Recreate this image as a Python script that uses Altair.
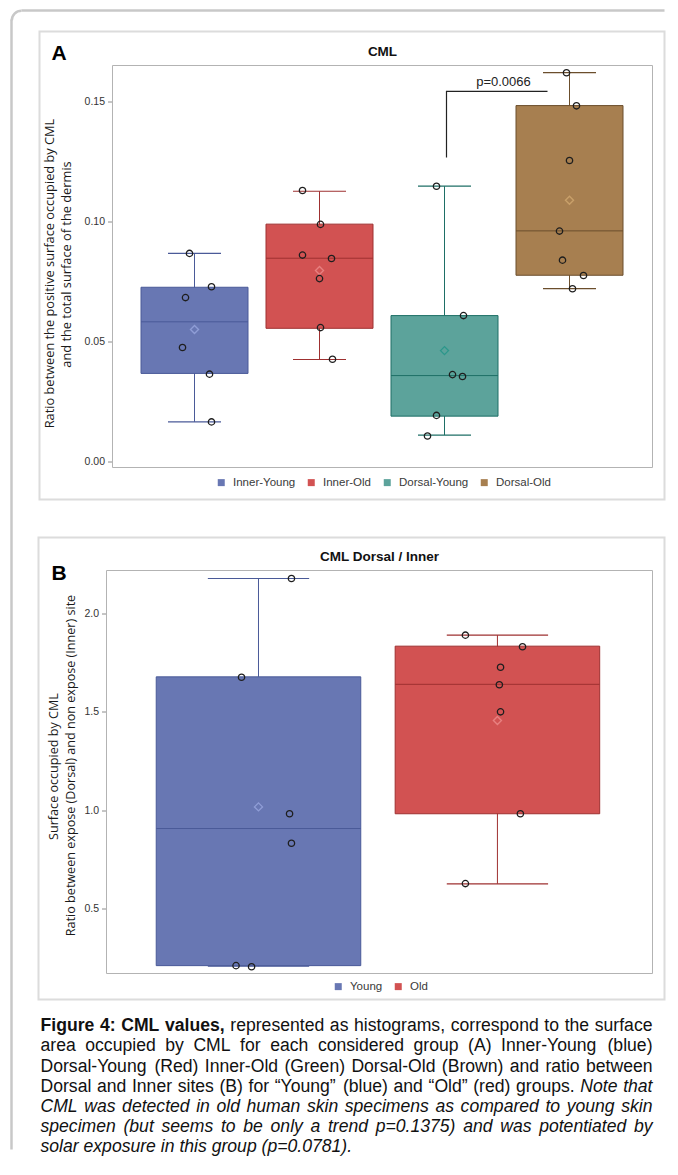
import altair as alt
import pandas as pd

# ---------------- Panel A data (CML) ----------------
A_GROUPS = ["Inner-Young", "Inner-Old", "Dorsal-Young", "Dorsal-Old"]
A_Q1 = [0.0367, 0.0555, 0.0189, 0.0776]
A_MEDIAN = [0.0582, 0.0847, 0.0358, 0.0961]
A_Q3 = [0.0726, 0.0989, 0.0608, 0.1483]
A_LOW = [0.0165, 0.0425, 0.0110, 0.0720]
A_HIGH = [0.0867, 0.1126, 0.1147, 0.1620]
A_MEAN = [0.0550, 0.0796, 0.0462, 0.1089]
A_PTS_IY = [0.0867, 0.0728, 0.0683, 0.0475, 0.0364, 0.0165]
A_JIT_IY = [-0.04, 0.136, -0.072, -0.096, 0.12, 0.136]
A_PTS_IO = [0.1129, 0.0988, 0.0860, 0.0846, 0.0762, 0.0558, 0.0426]
A_JIT_IO = [-0.136, 0.008, -0.136, 0.096, 0.0, 0.008, 0.104]
A_PTS_DY = [0.1147, 0.0608, 0.0362, 0.0354, 0.0192, 0.0106]
A_JIT_DY = [-0.064, 0.152, 0.064, 0.144, -0.064, -0.136]
A_PTS_DO = [0.1620, 0.1482, 0.1254, 0.0960, 0.0839, 0.0775, 0.0720]
A_JIT_DO = [-0.024, 0.056, 0.0, -0.08, -0.056, 0.112, 0.024]
A_TICKS = [0.0, 0.05, 0.10, 0.15]
A_BRACKET_X = [3.016, 3.016, 3.824]
A_BRACKET_Y = [0.1267, 0.1542, 0.1542]
A_PVALUE = "p=0.0066"
A_PVALUE_X = [3.472]
A_PVALUE_Y = [0.1583]

# ---------------- Panel B data (CML Dorsal / Inner) ----------------
B_GROUPS = ["Young", "Old"]
B_Q1 = [0.210, 0.982]
B_MEDIAN = [0.907, 1.640]
B_Q3 = [1.678, 1.834]
B_LOW = [0.207, 0.626]
B_HIGH = [2.178, 1.890]
B_MEAN = [1.017, 1.456]
B_PTS_Y = [2.178, 1.676, 0.982, 0.832, 0.210, 0.204]
B_JIT_Y = [0.138, -0.071, 0.130, 0.138, -0.094, -0.029]
B_PTS_O = [1.890, 1.831, 1.727, 1.638, 1.500, 0.982, 0.627]
B_JIT_O = [-0.134, 0.105, 0.013, 0.008, 0.013, 0.096, -0.134]
B_TICKS = [0.5, 1.0, 1.5, 2.0]

FILLS = ["#6877B3", "#D25252", "#5CA39B", "#A77F50"]
LINES = ["#4A5A98", "#9E3030", "#1E6F66", "#6B4E2C"]
MEANS = ["#8F9DD6", "#E88080", "#2C978B", "#C9A06A"]

CAPTION = [
    [("Figure 4: CML values,", "bold"), ("represented as histograms, correspond to the surface", "normal")],
    [("area occupied by CML for each considered group (A) Inner-Young (blue)", "normal")],
    [("Dorsal-Young (Red) Inner-Old (Green) Dorsal-Old (Brown) and ratio between", "normal")],
    [("Dorsal and Inner sites (B) for \u201cYoung\u201d (blue) and \u201cOld\u201d (red) groups.", "normal"),
     ("Note that", "italic")],
    [("CML was detected in old human skin specimens as compared to young skin", "italic")],
    [("specimen (but seems to be only a trend p=0.1375) and was potentiated by", "italic")],
    [("solar exposure in this group (p=0.0781).", "italic")],
]

ONE = pd.DataFrame({"k": [0]})
W = 540


def vtext(txt, x, y, **kw):
    return alt.Chart(ONE).mark_text(text=txt, **kw).encode(x=alt.value(x), y=alt.value(y))


def vrect(x, x2, y, y2, **kw):
    return alt.Chart(ONE).mark_rect(**kw).encode(
        x=alt.value(x), x2=alt.value(x2), y=alt.value(y), y2=alt.value(y2))


def vrule(x, x2, y, y2, **kw):
    return alt.Chart(ONE).mark_rule(**kw).encode(
        x=alt.value(x), x2=alt.value(x2), y=alt.value(y), y2=alt.value(y2))


def panel(groups, q1, med, q3, low, high, mean, pts, jits, xdom, ydom, ticks, fmt,
          H, axis_offset, frame_x0, legend_xy, title, letter, letter_y, ytitles, ytfs,
          panel_frame, extra=None):
    n = len(groups)
    pos = list(range(1, n + 1))
    stats = pd.DataFrame({"group": groups, "pos": pos, "q1": q1, "median": med, "q3": q3,
                          "low": low, "high": high, "mean": mean})
    stats["mkey"] = stats["group"] + " mean"
    rows = []
    for g, p, vals, jit in zip(groups, pos, pts, jits):
        for v, j in zip(vals, jit):
            rows.append({"group": g, "xp": p + j, "value": v})
    ptsdf = pd.DataFrame(rows)

    xs = alt.Scale(domain=xdom, nice=False, zero=False)
    ys = alt.Scale(domain=ydom, nice=False, zero=False)
    yaxis = alt.Axis(values=ticks, format=fmt, domain=False, grid=False, tickSize=5,
                     tickColor="#8c8c8c", tickWidth=1, labelFont="Liberation Sans",
                     labelFontSize=10.5, labelColor="#333333", labelPadding=3,
                     offset=axis_offset)

    def X(f):
        return alt.X(f + ":Q", scale=xs, axis=None)

    def Y(f):
        return alt.Y(f + ":Q", scale=ys, axis=yaxis, title=None)

    sscale = alt.Scale(domain=groups + [g + " mean" for g in groups],
                       range=LINES[:n] + MEANS[:n])
    S = alt.Stroke("group:N", scale=sscale, legend=None)

    base = alt.Chart(stats).transform_calculate(
        bl="datum.pos - 0.428", br="datum.pos + 0.428",
        cl="datum.pos - 0.212", cr="datum.pos + 0.212")

    legend = alt.Legend(orient="none", legendX=legend_xy[0], legendY=legend_xy[1],
                        direction="horizontal", title=None, symbolType="square",
                        symbolSize=49, symbolStrokeWidth=0, labelFont="Liberation Sans",
                        labelFontSize=11.5, labelColor="#3a3a3a", columnPadding=10,
                        labelOffset=6, padding=0)

    layers = [
        vrect(-73 if frame_x0 == 0 else -74, 552, panel_frame[0], panel_frame[1],
              fillOpacity=0, stroke="#dcdcdc", strokeWidth=2),
        vrect(frame_x0, W, 0, H, fillOpacity=0, stroke="#b3b3b3", strokeWidth=1),
        base.mark_rule(strokeWidth=1).encode(x=X("pos"), y=Y("low"), y2="high", stroke=S),
        base.mark_rule(strokeWidth=1.2).encode(x=X("cl"), x2="cr", y=Y("low"), stroke=S),
        base.mark_rule(strokeWidth=1.2).encode(x=X("cl"), x2="cr", y=Y("high"), stroke=S),
        base.mark_rect(strokeWidth=1).encode(
            x=X("bl"), x2="br", y=Y("q1"), y2="q3",
            color=alt.Color("group:N", scale=alt.Scale(domain=groups, range=FILLS[:n]),
                            legend=legend),
            stroke=S),
        base.mark_rule(strokeWidth=1).encode(x=X("bl"), x2="br", y=Y("median"), stroke=S),
        base.mark_point(shape="diamond", filled=False, size=64, strokeWidth=1.4,
                        opacity=1).encode(
            x=X("pos"), y=Y("mean"), stroke=alt.Stroke("mkey:N", scale=sscale, legend=None)),
        alt.Chart(ptsdf).mark_point(shape="circle", filled=False, size=40, strokeWidth=1.3,
                                    stroke="#1e1e1e", opacity=1).encode(
            x=X("xp"), y=Y("value")),
        vtext(title, W / 2 + (frame_x0 / 2), -14, font="Liberation Sans", fontSize=13.5,
              fontWeight="bold", align="center", baseline="middle", color="#111111"),
        vtext(letter, -61, letter_y, font="Liberation Sans", fontSize=21, fontWeight="bold",
              align="left", baseline="alphabetic", color="#000000"),
    ]
    for (txt, tx, ty) in ytitles:
        layers.append(vtext(txt, tx, ty, font="Open Sans", fontSize=ytfs, angle=270,
                            align="center", baseline="middle", color="#1a1a1a"))
    if extra is not None:
        layers.extend(extra(X, Y))
    return alt.layer(*layers).properties(
        width=W, height=H, view=alt.ViewBackground(stroke="transparent"))


def a_extra(X, Y):
    br = pd.DataFrame({"bx": A_BRACKET_X, "by": A_BRACKET_Y, "o": [0, 1, 2]})
    pv = pd.DataFrame({"px": A_PVALUE_X, "py": A_PVALUE_Y, "t": [A_PVALUE]})
    return [
        alt.Chart(br).mark_line(color="#222222", strokeWidth=1.2).encode(
            x=X("bx"), y=Y("by"), order="o:Q"),
        alt.Chart(pv).mark_text(font="Liberation Sans", fontSize=13, color="#222222",
                                align="center", baseline="middle").encode(
            x=X("px"), y=Y("py"), text="t:N"),
        # page border (left, top and rounded corner)
        vrule(-101, -101, -46, 1084, stroke="#c8c8c8", strokeWidth=2.5),
        vrule(-91, 552, -55, -55, stroke="#c8c8c8", strokeWidth=2.5),
        alt.Chart(ONE).mark_arc(theta=4.712, theta2=6.283, radius=11, radius2=8.5,
                                color="#c8c8c8").encode(x=alt.value(-91), y=alt.value(-45)),
    ]


chartA = panel(
    A_GROUPS, A_Q1, A_MEDIAN, A_Q3, A_LOW, A_HIGH, A_MEAN,
    [A_PTS_IY, A_PTS_IO, A_PTS_DY, A_PTS_DO], [A_JIT_IY, A_JIT_IO, A_JIT_DY, A_JIT_DO],
    [0.344, 4.664], [-0.0025, 0.165], A_TICKS, ".2f", 402, 0, 0, (103, 411),
    "CML", "A", -6,
    [("Ratio between the positive surface occupied by CML", -63, 208),
     ("and the total surface of the dermis", -46, 199)], 12.8,
    (-34, 434), extra=a_extra)

chartB = panel(
    B_GROUPS, B_Q1, B_MEDIAN, B_Q3, B_LOW, B_HIGH, B_MEAN,
    [B_PTS_Y, B_PTS_O], [B_JIT_Y, B_JIT_O],
    [0.389, 2.649], [0.170, 2.2186], B_TICKS, ".1f", 403, 6, -6, (220, 410),
    "CML Dorsal / Inner", "B", 9,
    [("Surface occupied by CML", -59, 196),
     ("Ratio between expose (Dorsal) and non expose (Inner) site", -42, 195)], 12.6,
    (-33, 429))

# ---------------- caption (justified, word by word) ----------------
ARIAL = {' ': 278, '(': 333, ')': 333, ',': 278, '-': 333, '.': 278, '/': 278, ':': 278,
         '=': 584, '\u201c': 333, '\u201d': 333,
         'A': 667, 'B': 667, 'C': 722, 'D': 722, 'E': 667, 'F': 611, 'G': 778, 'H': 722,
         'I': 278, 'J': 500, 'K': 667, 'L': 556, 'M': 833, 'N': 722, 'O': 778, 'P': 667,
         'Q': 778, 'R': 722, 'S': 667, 'T': 611, 'U': 722, 'V': 667, 'W': 944, 'X': 667,
         'Y': 667, 'Z': 611,
         'a': 556, 'b': 556, 'c': 500, 'd': 556, 'e': 556, 'f': 278, 'g': 556, 'h': 556,
         'i': 222, 'j': 222, 'k': 500, 'l': 222, 'm': 833, 'n': 556, 'o': 556, 'p': 556,
         'q': 556, 'r': 333, 's': 500, 't': 278, 'u': 556, 'v': 500, 'w': 722, 'x': 500,
         'y': 500, 'z': 500}
for d in "0123456789":
    ARIAL[d] = 556
ARIAL_BOLD = dict(ARIAL)
ARIAL_BOLD.update({':': 333, 'L': 611, 'b': 611, 'd': 611, 'g': 611, 'h': 611, 'i': 278,
                   'l': 278, 'n': 611, 'o': 611, 'r': 389, 's': 556, 'u': 611, 'v': 556,
                   'c': 556, 'm': 889, 't': 333})

CAP_FS = 17.6
CAP_X0 = -72
CAP_W = 612
CAP_Y0 = -50.3
CAP_LH = 20.17


def word_w(w, style):
    tab = ARIAL_BOLD if style == "bold" else ARIAL
    return sum(tab.get(c, 556) for c in w) * CAP_FS / 1000.0


cap_rows = []
for li, line in enumerate(CAPTION):
    words = [(w, st) for (run, st) in line for w in run.split()]
    widths = [word_w(w, st) for (w, st) in words]
    if li < len(CAPTION) - 1 and len(words) > 1:
        gap = max((CAP_W - sum(widths)) / (len(words) - 1), 0.15 * CAP_FS)
    else:
        gap = 0.278 * CAP_FS
    x = CAP_X0
    for (w, st), wd in zip(words, widths):
        cap_rows.append({"word": w, "px": x, "py": CAP_Y0 + li * CAP_LH, "style": st})
        x += wd + gap
capdf = pd.DataFrame(cap_rows)

cap_layers = []
for st in ["normal", "bold", "italic"]:
    cap_layers.append(
        alt.Chart(capdf).transform_filter(alt.datum.style == st).mark_text(
            font="Liberation Sans", fontSize=CAP_FS, align="left", baseline="middle",
            color="#111111", fontWeight="bold" if st == "bold" else "normal",
            fontStyle="italic" if st == "italic" else "normal").encode(
            x=alt.X("px:Q", scale=None, axis=None), y=alt.Y("py:Q", scale=None, axis=None),
            text="word:N"))
chartC = alt.layer(*cap_layers).properties(
    width=W, height=1, view=alt.ViewBackground(stroke="transparent"))

chart = alt.vconcat(
    chartA, chartB, chartC, spacing=103, bounds="flush",
    padding={"left": 1.5, "top": 0.5, "right": 0, "bottom": 0},
).resolve_scale(
    x="independent", y="independent", color="independent", stroke="independent"
).configure_view(stroke="transparent").configure_axis(domain=False, grid=False).configure(
    background="#ffffff")

chart.save("out.html", embed_options={"renderer": "svg", "actions": False})
